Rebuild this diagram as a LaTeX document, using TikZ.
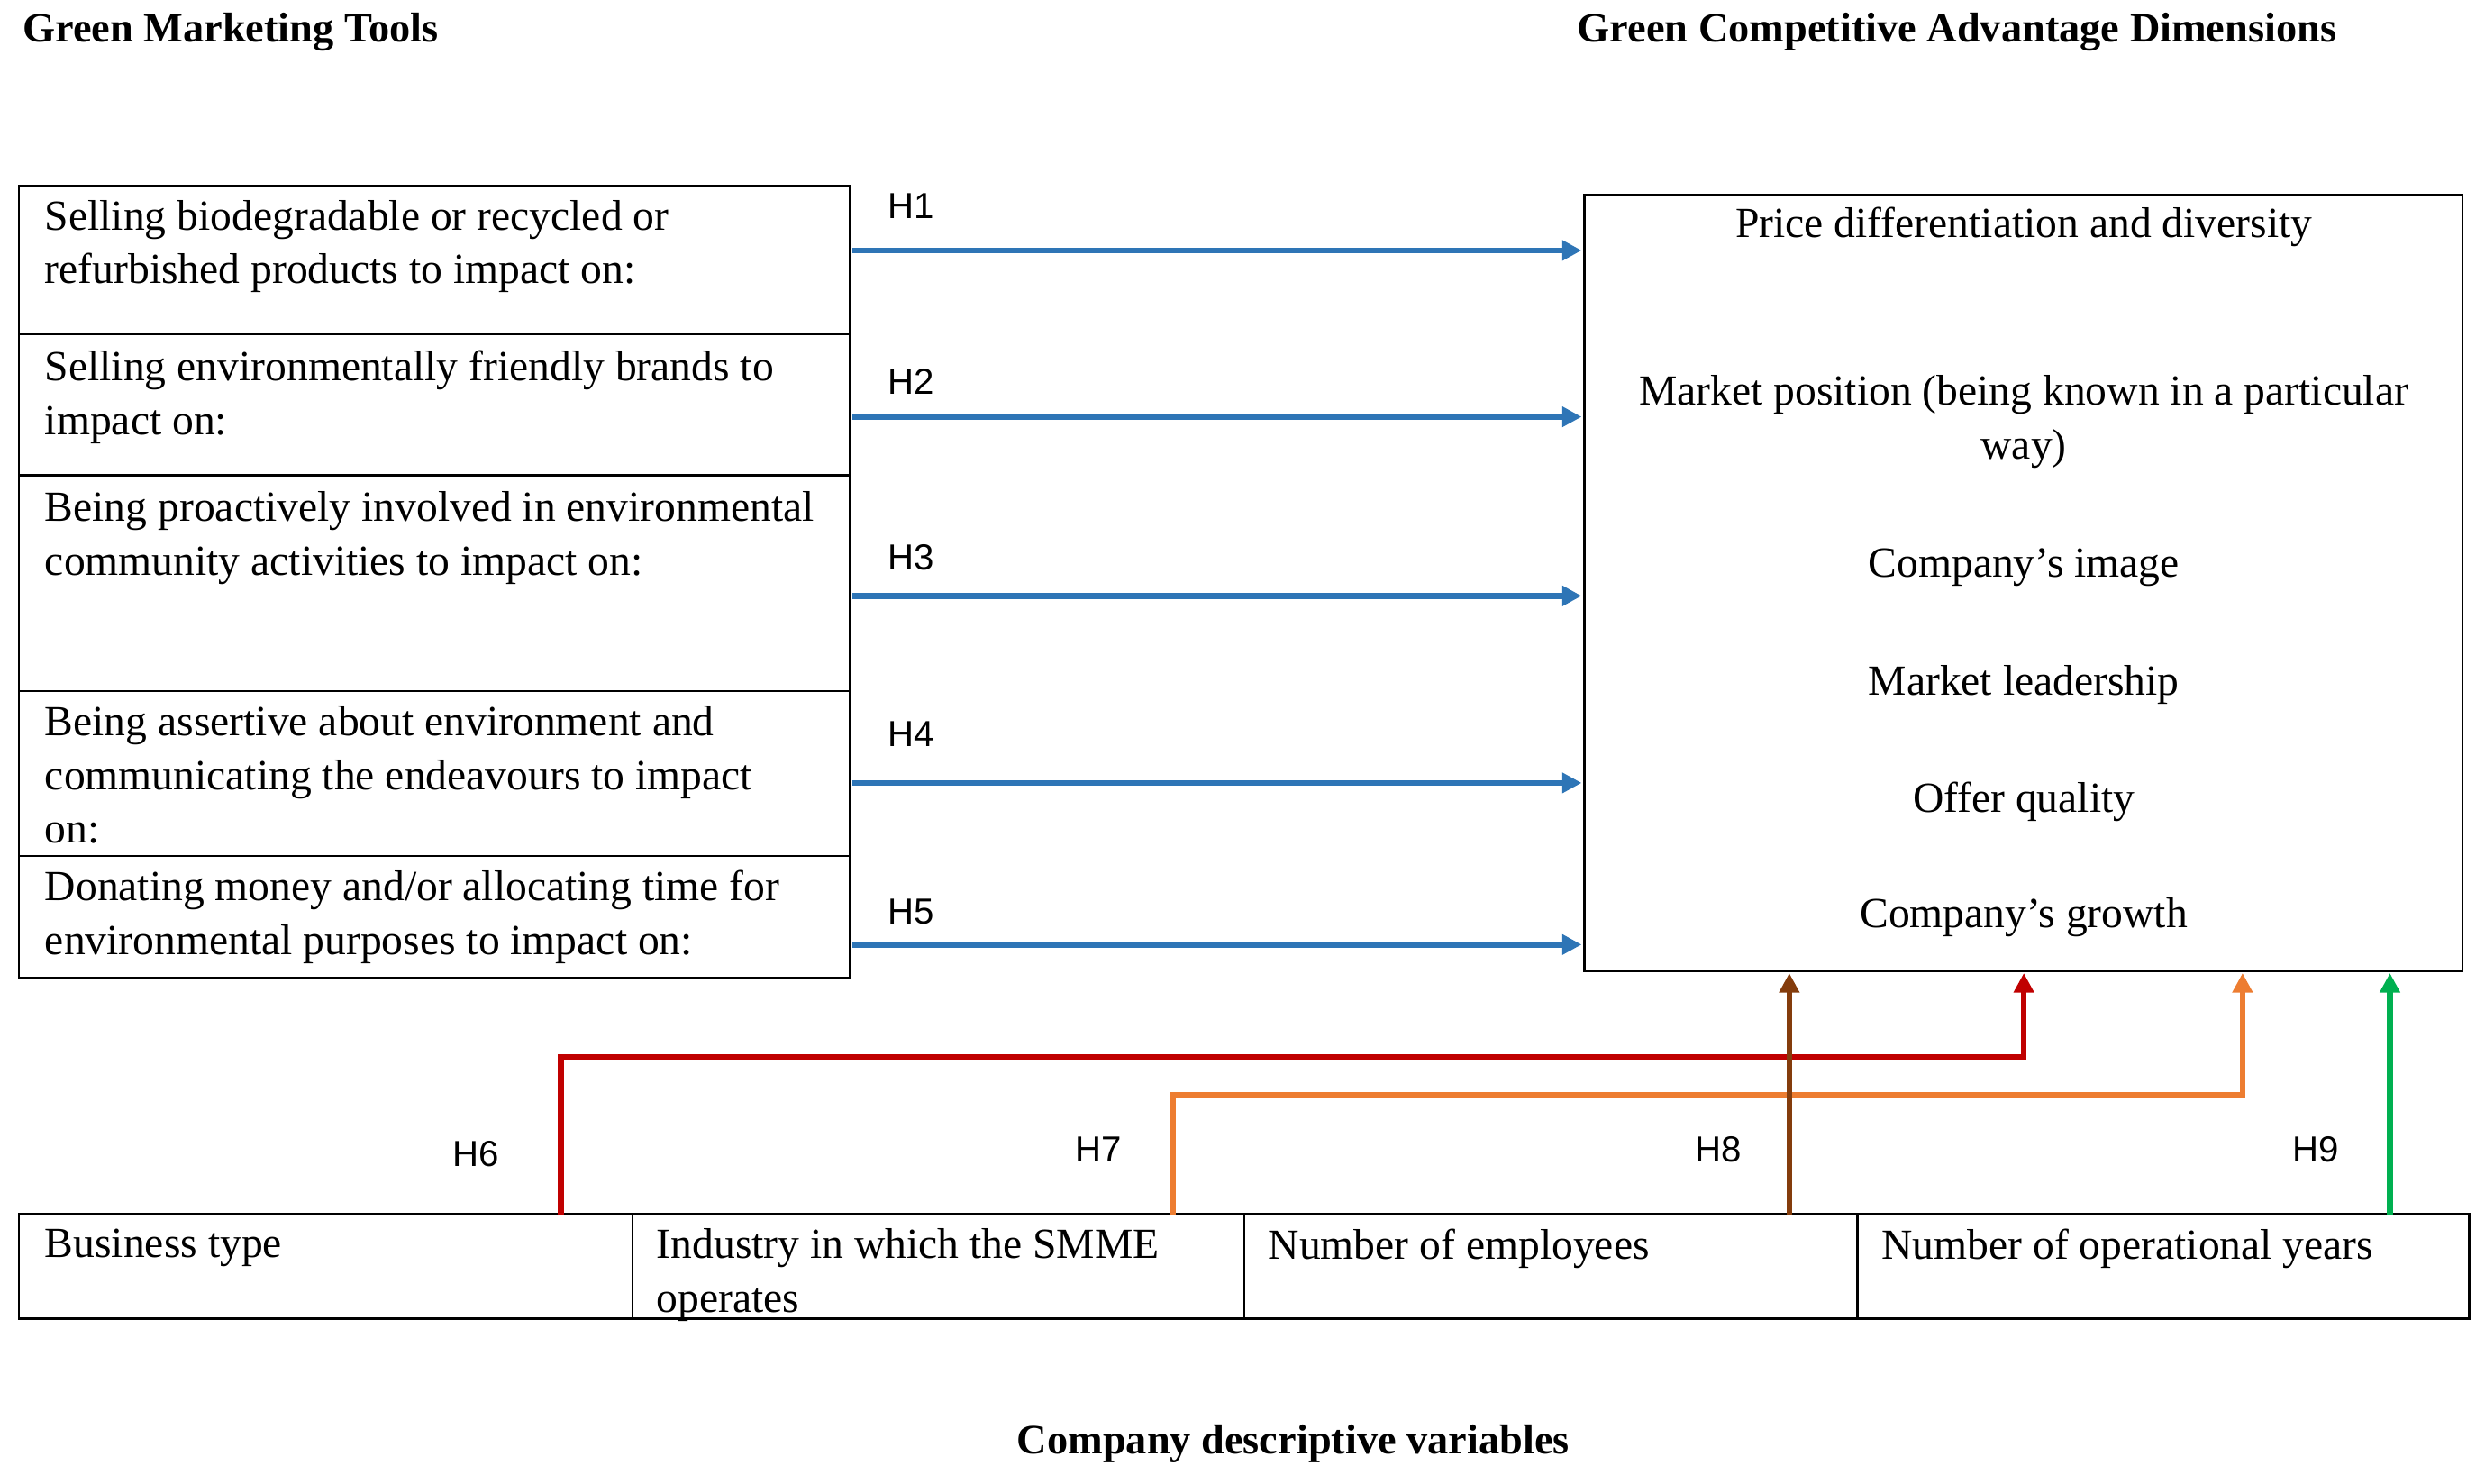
\documentclass[tikz,border=0pt]{standalone}
\usepackage{fontspec}
\setmainfont{Liberation Serif}
\newfontfamily\hsans{Liberation Sans}
\usetikzlibrary{arrows.meta}
\definecolor{cblue}{RGB}{46,117,182}
\definecolor{cred}{RGB}{192,0,0}
\definecolor{corange}{RGB}{237,125,49}
\definecolor{cbrown}{RGB}{132,60,12}
\definecolor{cgreen}{RGB}{0,176,80}
\begin{document}
\begin{tikzpicture}[x=0.02cm,y=-0.02cm,
  box/.style={draw,line width=0.8pt},
  txt/.style={anchor=north west,align=left,inner sep=0pt,font=\fontsize{15.4}{19.3}\selectfont},
  ctxt/.style={anchor=center,align=center,inner sep=0pt,font=\fontsize{15.4}{19.3}\selectfont},
  hl/.style={anchor=center,inner sep=0pt,font=\hsans\fontsize{13}{15}\selectfont},
  ttl/.style={anchor=west,inner sep=0pt,font=\bfseries\fontsize{15}{17}\selectfont},
  arr/.style={line width=2.1pt,-{Triangle[length=7pt,width=7pt]}}]
\useasboundingbox (0,0) rectangle (1568,936);
\node[ttl] (t1) at (14,20) {Green Marketing Tools};
\node[ttl] (t2) at (995,20) {Green Competitive Advantage Dimensions};
\node[ttl,anchor=center] (t3) at (816,911) {Company descriptive variables};
% left boxes
\foreach \a/\b/\n in {117/211/L1,211/300/L2,300/436/L3,436/540/L4,540/617/L5}{
  \draw[box] (12,\a) rectangle (536,\b);
  \coordinate (\n) at (536,\a);}
\node[txt] (l1) at (28,126) {Selling biodegradable or recycled or\\refurbished products to impact on:};
\node[txt] (l2) at (28,221) {Selling environmentally friendly brands to\\impact on:};
\node[txt] (l3) at (28,310) {Being proactively involved in environmental\\community activities to impact on:};
\node[txt] (l4) at (28,445) {Being assertive about environment and\\communicating the endeavours to impact\\on:};
\node[txt] (l5) at (28,549) {Donating money and/or allocating time for\\environmental purposes to impact on:};
% right box
\node[box,minimum width=554*0.02cm,minimum height=490*0.02cm,anchor=north west,inner sep=0pt] (R) at (999,122) {};
\node[ctxt] (r1) at (1277,143) {Price differentiation and diversity};
\node[ctxt] (r2) at (1277,266) {Market position (being known in a particular\\way)};
\node[ctxt] (r3) at (1277,358) {Company’s image};
\node[ctxt] (r4) at (1277,432) {Market leadership};
\node[ctxt] (r5) at (1277,506) {Offer quality};
\node[ctxt] (r6) at (1277,579) {Company’s growth};
% blue arrows
\foreach \y/\h/\ly in {158/H1/130,263/H2/241,376/H3/352,494/H4/463,596/H5/575}{
  \coordinate (s\h) at (538,\y); \coordinate (e\h) at (998,\y);
  \draw[arr,cblue] (s\h) -- (e\h);
  \node[hl] (n\h) at (575,\ly) {\h};}
% bottom boxes
\foreach \a/\b/\n in {12/399/B1,399/785/B2,785/1172/B3,1172/1558/B4}{
  \draw[box] (\a,766) rectangle (\b,832);}
\node[txt] (b1) at (28,775) {Business type};
\node[txt] (b2) at (414,775) {Industry in which the SMME\\operates};
\node[txt] (b3) at (800,775) {Number of employees};
\node[txt] (b4) at (1187,775) {Number of operational years};
% colored connectors
\coordinate (h6s) at (354,767); \coordinate (h6e) at (1277,614);
\coordinate (h7s) at (740,767); \coordinate (h7e) at (1415,614);
\coordinate (h8s) at (1129,767); \coordinate (h8e) at (1129,614);
\coordinate (h9s) at (1508,767); \coordinate (h9e) at (1508,614);
\draw[arr,cred] (h6s) |- (800,667) -| (h6e);
\draw[arr,corange] (h7s) |- (1000,691) -| (h7e);
\draw[arr,cbrown] (h8s) -- (h8e);
\draw[arr,cgreen] (h9s) -- (h9e);
\node[hl] (h6) at (300,728) {H6};
\node[hl] (h7) at (693,725) {H7};
\node[hl] (h8) at (1084,725) {H8};
\node[hl] (h9) at (1461,725) {H9};
\end{tikzpicture}
\end{document}
